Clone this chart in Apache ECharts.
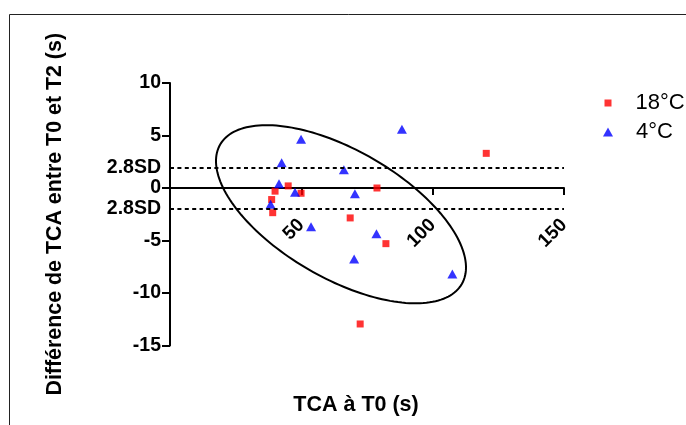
<!DOCTYPE html>
<html>
<head>
<meta charset="utf-8">
<script src="https://cdn.jsdelivr.net/npm/echarts@6/dist/echarts.min.js"></script>
<style>
  html, body { margin: 0; padding: 0; background: #fff; }
  #chart { width: 686px; height: 425px; }
</style>
</head>
<body>
<div id="chart"></div>
<script>
// TCA at T0 (x) vs. difference T0 - T2 (y), per storage temperature
const x18 = [40.0, 45.0, 49.9, 38.7, 39.1, 78.8, 68.6, 82.2, 120.4, 72.4];
const y18 = [-0.3, 0.2, -0.5, -1.1, -2.35, 0.0, -2.85, -5.3, 3.3, -12.95];

const x4 = [88.3, 49.9, 42.5, 66.2, 41.5, 47.6, 70.4, 38.3, 53.7, 78.6, 70.1, 107.5];
const y4 = [5.6, 4.65, 2.4, 1.75, 0.4, -0.4, -0.55, -1.55, -3.7, -4.35, -6.75, -8.2];

// agreement limits (2.8 SD)
const sdUpper = 1.9;
const sdLower = -2.0;

// ellipse in data units: centre, end of one semi-diameter, end of its conjugate
const ellCentre = [65.1, -2.5];
const ellMajorEnd = [111.1, -9.14];
const ellMinorEnd = [52.9, -7.78];

const Y_MIN = -15, Y_MAX = 10;
const GRID_TOP = 83, GRID_H = 262.5;

const FONT = '"Liberation Sans", Arial, sans-serif';

const pts18 = x18.map((x, i) => [x, y18[i]]);
const pts4 = x4.map((x, i) => [x, y4[i]]);

// the x axis (line, ticks and labels) sits on y = 0
const zeroOffset = GRID_H * (0 - Y_MIN) / (Y_MAX - Y_MIN);

const chart = echarts.init(document.getElementById('chart'), null, { renderer: 'canvas' });

chart.setOption({
  animation: false,
  backgroundColor: '#fff',
  grid: { left: 170, top: GRID_TOP, width: 394, height: GRID_H, containLabel: false },
  graphic: [
    {
      type: 'rect',
      shape: { x: 9.5, y: 14.5, width: 700, height: 430 },
      style: { fill: 'none', stroke: '#222', lineWidth: 1 },
      z: -10
    },
    {
      type: 'text',
      x: 356, y: 405,
      style: {
        text: 'TCA à T0 (s)', fill: '#000', font: 'bold 21.5px ' + FONT,
        align: 'center', verticalAlign: 'middle'
      }
    }
  ],
  legend: [
    {
      data: ['18°C'], left: 599.5, top: 87, orient: 'vertical',
      itemWidth: 7, itemHeight: 7, icon: 'rect',
      textStyle: { fontFamily: FONT, fontSize: 22, color: '#000', padding: [0, 0, 0, 19] }
    },
    {
      data: ['4°C'], left: 598, top: 116, orient: 'vertical',
      itemWidth: 10, itemHeight: 9, icon: 'triangle',
      textStyle: { fontFamily: FONT, fontSize: 22, color: '#000', padding: [0, 0, 0, 18] }
    }
  ],
  xAxis: {
    type: 'value', min: 0, max: 150, interval: 50,
    offset: -zeroOffset,
    axisLine: { onZero: false, lineStyle: { color: '#000', width: 2 } },
    axisTick: { show: true, length: 7, lineStyle: { color: '#000', width: 2 } },
    splitLine: { show: false },
    axisLabel: {
      rotate: 45, margin: 34, color: '#000',
      fontFamily: FONT, fontWeight: 'bold', fontSize: 19,
      formatter: v => (v === 0 ? '' : String(v))
    }
  },
  yAxis: {
    type: 'value', min: Y_MIN, max: Y_MAX, interval: 5,
    name: 'Différence de TCA entre T0 et T2 (s)',
    nameLocation: 'middle', nameGap: 104, nameRotate: 90,
    nameTextStyle: { fontFamily: FONT, fontWeight: 'bold', fontSize: 21.4, color: '#000' },
    axisLine: { onZero: false, lineStyle: { color: '#000', width: 2 } },
    axisTick: { show: true, length: 8, lineStyle: { color: '#000', width: 2 } },
    splitLine: { show: false },
    axisLabel: {
      margin: 9, color: '#000',
      fontFamily: FONT, fontWeight: 'bold', fontSize: 19.5
    }
  },
  series: [
    {
      name: 'ellipse',
      type: 'custom',
      silent: true,
      data: [ellCentre],
      z: 1,
      renderItem: function (params, api) {
        const c = api.coord(ellCentre);
        const a = api.coord(ellMajorEnd);
        const b = api.coord(ellMinorEnd);
        const u = [a[0] - c[0], a[1] - c[1]];
        const v = [b[0] - c[0], b[1] - c[1]];
        const poly = [];
        for (let k = 0; k < 180; k++) {
          const t = (k / 180) * Math.PI * 2;
          poly.push([c[0] + u[0] * Math.cos(t) + v[0] * Math.sin(t),
                     c[1] + u[1] * Math.cos(t) + v[1] * Math.sin(t)]);
        }
        return {
          type: 'polygon',
          shape: { points: poly, smooth: 0 },
          style: { fill: 'none', stroke: '#000', lineWidth: 2 }
        };
      }
    },
    {
      name: '18°C',
      type: 'scatter',
      symbol: 'rect',
      symbolSize: 7,
      itemStyle: { color: '#ff0000' },
      data: pts18,
      z: 3,
      markLine: {
        silent: true,
        symbol: 'none',
        lineStyle: { color: '#000', width: 2, type: [4, 3.4] },
        label: {
          position: 'start', distance: 9, formatter: '2.8SD', color: '#000',
          fontFamily: FONT, fontWeight: 'bold', fontSize: 19.5
        },
        data: [{ yAxis: sdUpper }, { yAxis: sdLower }]
      }
    },
    {
      name: '4°C',
      type: 'scatter',
      symbol: 'triangle',
      symbolSize: [10, 9],
      itemStyle: { color: '#0000ff' },
      data: pts4,
      z: 3
    }
  ]
});
</script>
</body>
</html>
